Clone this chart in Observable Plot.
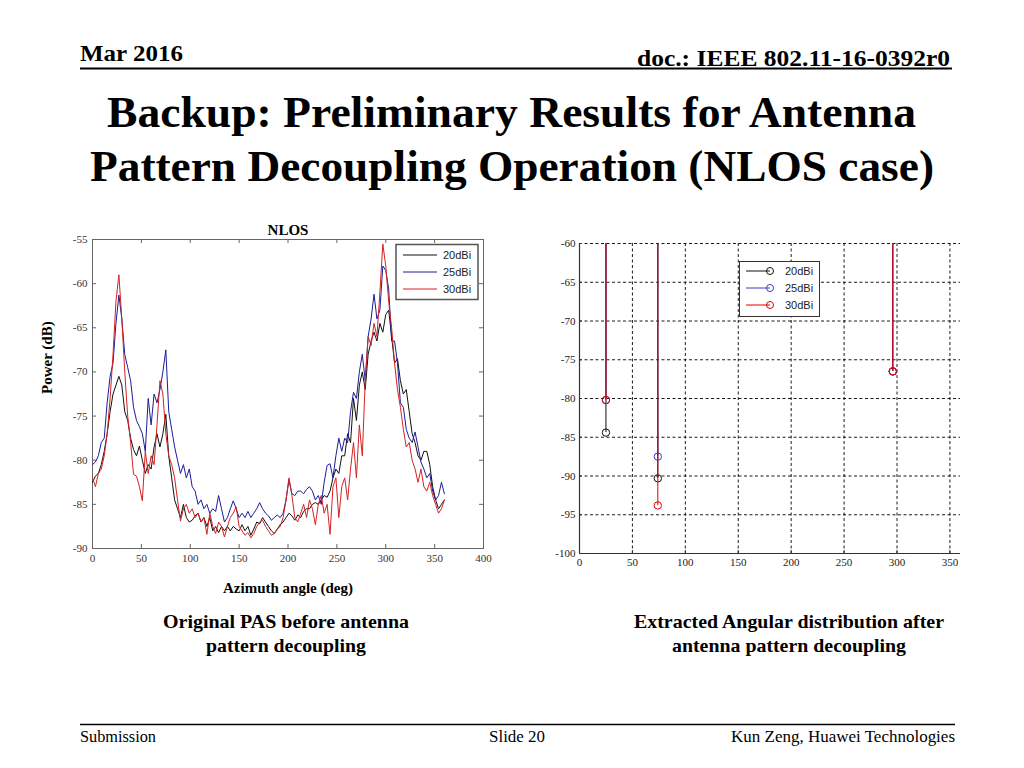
<!DOCTYPE html>
<html>
<head>
<meta charset="utf-8">
<script src="https://cdn.jsdelivr.net/npm/d3@7"></script>
<script src="https://cdn.jsdelivr.net/npm/@observablehq/plot@0.6"></script>
<style>
html, body { margin: 0; padding: 0; background: #fff; }
body { width: 1024px; height: 768px; position: relative; overflow: hidden; }
.abs { position: absolute; }
svg text { font-family: "Liberation Serif", "Times New Roman", serif; }
</style>
</head>
<body>
<svg class="abs" id="bg" width="1024" height="768" style="left:0;top:0">
  <text x="80" y="61" font-size="24" font-weight="bold" textLength="103" lengthAdjust="spacingAndGlyphs">Mar 2016</text>
  <text x="950" y="66" text-anchor="end" font-size="24" font-weight="bold" textLength="313" lengthAdjust="spacingAndGlyphs">doc.: IEEE 802.11-16-0392r0</text>
  <line x1="80" x2="952" y1="68.5" y2="68.5" stroke="#000" stroke-width="2"/>
  <text x="511.5" y="127" text-anchor="middle" font-size="45" font-weight="bold" textLength="809" lengthAdjust="spacingAndGlyphs">Backup: Preliminary Results for Antenna</text>
  <text x="512" y="181" text-anchor="middle" font-size="45" font-weight="bold" textLength="844" lengthAdjust="spacingAndGlyphs">Pattern Decoupling Operation (NLOS case)</text>
  <text x="286" y="628" text-anchor="middle" font-size="19" font-weight="bold" textLength="246" lengthAdjust="spacingAndGlyphs">Original PAS before antenna</text>
  <text x="286" y="652" text-anchor="middle" font-size="19" font-weight="bold" textLength="160" lengthAdjust="spacingAndGlyphs">pattern decoupling</text>
  <text x="789" y="628" text-anchor="middle" font-size="19" font-weight="bold" textLength="310" lengthAdjust="spacingAndGlyphs">Extracted Angular distribution after</text>
  <text x="789" y="652" text-anchor="middle" font-size="19" font-weight="bold" textLength="234" lengthAdjust="spacingAndGlyphs">antenna pattern decoupling</text>
  <line x1="80" x2="955" y1="724.5" y2="724.5" stroke="#000" stroke-width="1.5"/>
  <text x="80" y="742" font-size="16" textLength="76" lengthAdjust="spacingAndGlyphs">Submission</text>
  <text x="517" y="742" text-anchor="middle" font-size="16" textLength="56" lengthAdjust="spacingAndGlyphs">Slide 20</text>
  <text x="955" y="742" text-anchor="end" font-size="16" textLength="224" lengthAdjust="spacingAndGlyphs">Kun Zeng, Huawei Technologies</text>
</svg>
<div class="abs" id="leftChart" style="left:30px;top:210px"></div>
<div class="abs" id="rightChart" style="left:540px;top:230px"></div>
<svg class="abs" id="legends" width="1024" height="768" style="left:0;top:0;pointer-events:none"></svg>

<script>
// ---------- Data ----------
const seriesNames = ["20dBi", "25dBi", "30dBi"];
const seriesColors = ["#111111", "#1c1c9a", "#d42222"];
const stemColors = ["#111111", "#3a3ac8", "#dd0000"];

const angles = [0,3,6,9,12,15,18,21,24,27,30,33,36,39,42,45,48,51,54,57,60,63,66,69,72,75,78,81,84,87,90,93,96,99,102,105,108,111,114,117,120,123,126,129,132,135,138,141,144,147,150,153,156,159,162,165,168,171,174,177,180,183,186,189,192,195,198,201,204,207,210,213,216,219,222,225,228,231,234,237,240,243,246,249,252,255,258,261,264,267,270,273,276,279,282,285,288,291,294,297,300,303,306,309,312,315,318,321,324,327,330,333,336,339,342,345,348,351,354,357,360];

const power20 = [
  -82.5,-81.8,-81.5,-80.5,-79,-77,-74.5,-72.5,-71.5,-70.5,
  -71.5,-74.5,-75.5,-77.5,-78.8,-79.5,-78.4,-80,-81.5,-80.5,
  -81,-78.5,-77,-78.5,-77,-74.8,-79.5,-82,-84.5,-85.5,
  -86.5,-85,-86.5,-87,-86.8,-86.3,-86,-87,-86.5,-87.5,
  -86.5,-88,-87.5,-88.2,-87.5,-88,-87.5,-88,-87.5,-87.8,
  -88,-87.3,-88,-87.5,-88.5,-87.8,-87,-87.2,-86.5,-87,
  -87.5,-88,-88.3,-87.8,-87.3,-87,-86.5,-86,-86.3,-86.8,
  -86.2,-86.5,-85.8,-85.5,-85.5,-85,-84.8,-85,-84.5,-84,
  -84.2,-83.5,-82,-81,-81.5,-79.5,-79.5,-77,-78,-73,
  -75.5,-71.5,-70,-72,-68,-66.5,-65.5,-66.5,-64.5,-65.5,
  -63.5,-63,-66,-69,-68.5,-71,-72.5,-72,-74.5,-77,
  -78,-79.5,-80,-79,-79,-80.5,-83,-84.5,-85.5,-85,
  -84.5];

const power25 = [
  -80.5,-80.2,-79.5,-78,-77.5,-73.5,-70.5,-69,-64.5,-61.3,
  -64,-68,-69.5,-71,-74,-75.5,-76.2,-77,-79,-73,
  -76,-72.5,-73.5,-72,-70,-67.5,-74.5,-76.5,-78.5,-80,
  -81.5,-80.5,-82,-81,-83,-83.5,-85,-84.5,-85.5,-85,
  -86,-85.5,-85.8,-84,-85.5,-87,-86.5,-85.5,-84.6,-85.5,
  -86.5,-86,-86.5,-85.8,-86.5,-86,-85.5,-84.8,-85.5,-86,
  -86.3,-86.8,-86.5,-86.2,-86.5,-86,-84.5,-82.2,-83.8,-84,
  -83.5,-83.5,-83.8,-83.3,-83,-83.5,-84.5,-84,-85,-82.5,
  -80.6,-80.4,-82,-79.5,-77.5,-79,-77.5,-78,-74.5,-72.3,
  -73,-70,-68,-71,-66,-64,-61.2,-64,-63,-58,
  -58.5,-60.6,-66.5,-66.5,-69,-73.5,-74,-76.5,-77.5,-78,
  -76.8,-78.5,-80.2,-81,-82,-81.5,-83.5,-84.5,-84,-82.5,
  -83.8];

const power30 = [
  -82,-83,-81.5,-81,-79.5,-77,-73,-68,-62,-59,
  -64,-70,-75,-78,-81.6,-81.8,-83,-84.6,-79,-81.5,
  -79.5,-80.5,-76,-71,-72.5,-77,-79.5,-80.5,-82,-84.5,
  -86.9,-85.5,-85,-86,-85.5,-86.5,-86,-87,-86.5,-88.4,
  -86,-87.5,-88.3,-87,-87.5,-88.7,-87.5,-86.5,-86,-85.3,
  -87.5,-88,-88.5,-88.2,-88.8,-88.3,-87.5,-87,-86.8,-87.5,
  -88,-88.5,-88.3,-87.8,-87.5,-86.5,-84.5,-82,-84,-86.5,
  -87,-86,-85,-86.5,-84.5,-85.5,-87.3,-85,-84,-86,
  -85,-88.4,-83,-82,-86.5,-83,-82,-84.5,-81,-78,
  -82,-76,-79.5,-71,-66,-67,-64.5,-66,-61,-55.5,
  -58,-62,-65,-69,-72,-74,-76.5,-78.5,-78,-80,
  -81,-82.5,-81,-83,-83.5,-82.5,-84,-85,-86,-85.5,
  -84.5];

const leftXTicks = [0,50,100,150,200,250,300,350,400];
const leftYTicks = [-90,-85,-80,-75,-70,-65,-60,-55];

// Extracted angular distribution (stem plot)
const stemAngles = [25, 74, 296];
const stem20 = [-84.4, -90.3, -76.5];
const stem25 = [-80.2, -87.5, -76.5];
const stem30 = [-80.2, -93.8, -76.5];
const rightXTicks = [0,50,100,150,200,250,300,350];
const rightYTicks = [-100,-95,-90,-85,-80,-75,-70,-65,-60];

// ---------- Left chart ----------
const serif = '"Liberation Serif", "Times New Roman", serif';
const sans = '"Liberation Sans", Arial, sans-serif';
const fmt = d => String(d); // ASCII hyphen-minus like the original
const powerSeries = [power20, power25, power30];

const W1 = 470, H1 = 400, mL1 = 62, mR1 = 17, mT1 = 29, mB1 = 62;
const iH1 = H1 - mT1 - mB1, iW1 = W1 - mL1 - mR1;

const lineMarks = powerSeries.map((vals, si) =>
  Plot.line(angles.map((a, i) => ({angle: a, power: vals[i]})), {
    x: "angle", y: "power", stroke: seriesColors[si], strokeWidth: 1
  })
);

const left = Plot.plot({
  width: W1, height: H1,
  marginLeft: mL1, marginRight: mR1, marginTop: mT1, marginBottom: mB1,
  style: {fontFamily: sans, fontSize: "11px", color: "#333", background: "transparent", overflow: "visible"},
  x: {domain: [0, 400], ticks: leftXTicks, tickFormat: fmt, tickSize: 0, tickPadding: 6, label: null},
  y: {domain: [-90, -55], ticks: leftYTicks, tickFormat: fmt, tickSize: 0, tickPadding: 5, label: null},
  marks: [
    Plot.frame({stroke: "#666"}),
    Plot.tickX(leftXTicks, {x: d => d, insetTop: iH1 - 4, stroke: "#666"}),
    Plot.tickX(leftXTicks, {x: d => d, insetBottom: iH1 - 4, stroke: "#666"}),
    Plot.tickY(leftYTicks, {y: d => d, insetRight: iW1 - 4, stroke: "#666"}),
    Plot.tickY(leftYTicks, {y: d => d, insetLeft: iW1 - 4, stroke: "#666"}),
    ...lineMarks,
    Plot.text(["NLOS"], {text: d => d, frameAnchor: "top", dy: -15, fontFamily: serif, fontWeight: "bold", fontSize: 15, fill: "#000"}),
    Plot.text(["Power (dB)"], {text: d => d, frameAnchor: "left", rotate: -90, dx: -45, fontFamily: serif, fontWeight: "bold", fontSize: 15, fill: "#000"}),
    Plot.text(["Azimuth angle (deg)"], {text: d => d, frameAnchor: "bottom", dy: 44, fontFamily: serif, fontWeight: "bold", fontSize: 15, fill: "#000"})
  ]
});
document.getElementById("leftChart").appendChild(left);

// ---------- Right chart ----------
const stemSeries = [stem20, stem25, stem30];
const W2 = 430, H2 = 350, mL2 = 39, mR2 = 10, mT2 = 13, mB2 = 27;
const iH2 = H2 - mT2 - mB2, iW2 = W2 - mL2 - mR2;

const stemMarks = [];
stemSeries.forEach((vals, si) => {
  const rows = stemAngles.map((a, i) => ({angle: a, power: vals[i]}));
  stemMarks.push(Plot.ruleX(rows, {x: "angle", y1: 0, y2: "power", stroke: stemColors[si], strokeWidth: 1, clip: true}));
  stemMarks.push(Plot.dot(rows, {x: "angle", y: "power", r: 3.7, stroke: stemColors[si], fill: "none", strokeWidth: 1}));
});

const right = Plot.plot({
  width: W2, height: H2,
  marginLeft: mL2, marginRight: mR2, marginTop: mT2, marginBottom: mB2,
  style: {fontFamily: sans, fontSize: "11px", color: "#222", background: "transparent", overflow: "visible"},
  x: {domain: [0, 360], ticks: rightXTicks, tickFormat: fmt, tickSize: 0, tickPadding: 5, label: null},
  y: {domain: [-100, -60], ticks: rightYTicks, tickFormat: fmt, tickSize: 0, tickPadding: 4, label: null},
  marks: [
    Plot.ruleX(rightXTicks.filter(d => d > 0), {x: d => d, stroke: "#000", strokeWidth: 0.9, strokeDasharray: "3,2.5"}),
    Plot.ruleY(rightYTicks.filter(d => d > -100), {y: d => d, stroke: "#000", strokeWidth: 0.9, strokeDasharray: "3,2.5"}),
    Plot.ruleX([0], {stroke: "#333", strokeWidth: 1.2}),
    Plot.ruleY([-100], {stroke: "#333", strokeWidth: 1.2}),
    Plot.tickX(rightXTicks, {x: d => d, insetTop: iH2 - 3, stroke: "#333"}),
    Plot.tickY(rightYTicks, {y: d => d, insetRight: iW2 - 3, stroke: "#333"}),
    ...stemMarks
  ]
});
document.getElementById("rightChart").appendChild(right);

// ---------- Legends (overlay) ----------
const lg = d3.select("#legends");
// left chart legend
const L = lg.append("g");
L.append("rect").attr("x", 396).attr("y", 244.5).attr("width", 82).attr("height", 55)
  .attr("fill", "#fff").attr("stroke", "#555").attr("stroke-width", 1.5);
seriesNames.forEach((name, i) => {
  const y = 255 + i * 17;
  L.append("line").attr("x1", 403).attr("x2", 437).attr("y1", y).attr("y2", y)
    .attr("stroke", seriesColors[i]).attr("stroke-width", 1);
  L.append("text").attr("x", 443).attr("y", y + 4).attr("font-size", 11)
    .style("font-family", sans).attr("fill", "#222").text(name);
});
// right chart legend
const R = lg.append("g");
R.append("rect").attr("x", 739.5).attr("y", 261.5).attr("width", 80).attr("height", 55)
  .attr("fill", "#fff").attr("stroke", "#333").attr("stroke-width", 1);
seriesNames.forEach((name, i) => {
  const y = 271 + i * 17;
  R.append("line").attr("x1", 746).attr("x2", 770).attr("y1", y).attr("y2", y)
    .attr("stroke", stemColors[i]).attr("stroke-width", 1);
  R.append("circle").attr("cx", 770).attr("cy", y).attr("r", 3.5)
    .attr("fill", "none").attr("stroke", stemColors[i]).attr("stroke-width", 1);
  R.append("text").attr("x", 785).attr("y", y + 4).attr("font-size", 11)
    .style("font-family", sans).attr("fill", "#222").text(name);
});
</script>
</body>
</html>
